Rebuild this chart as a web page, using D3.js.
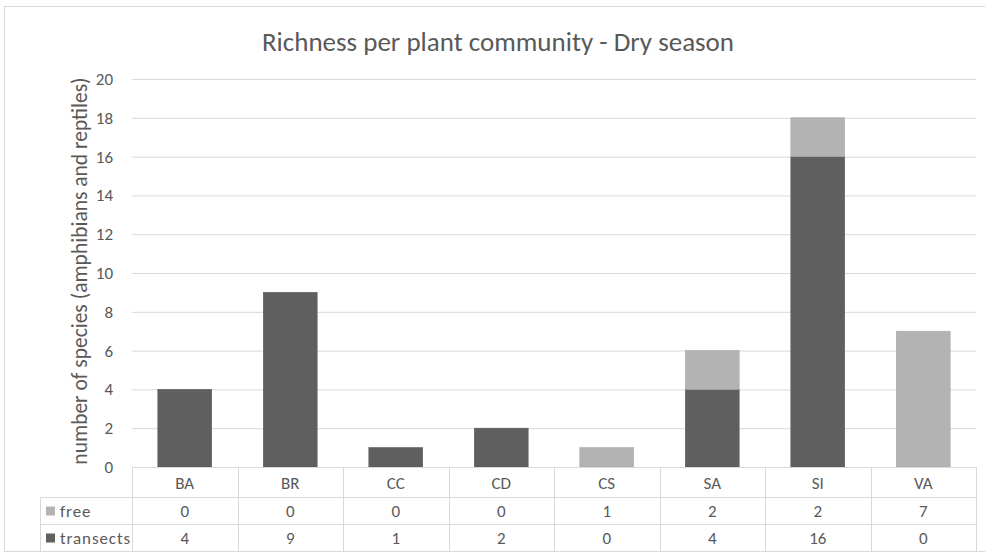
<!DOCTYPE html>
<html><head><meta charset="utf-8">
<script src="https://cdn.jsdelivr.net/npm/d3@7"></script>
<style>body{margin:0;background:#fff}svg text{font-family:Carlito,"Liberation Sans Narrow",Lato,sans-serif;fill:#595959}</style>
</head><body><svg id="c" width="985" height="559"></svg>
<script>
const categories=["BA","BR","CC","CD","CS","SA","SI","VA"];
const transects=[4,9,1,2,0,4,16,0];
const free=[0,0,0,0,1,2,2,7];
const seriesNames=["free","transects"];
const yTicks=[0,2,4,6,8,10,12,14,16,18,20];
const colors={transects:"#5f5f5f",free:"#b3b3b3"};

const svg=d3.select("#c");
svg.append("rect").attr("x",4.5).attr("y",6.5).attr("width",990).attr("height",545).attr("fill","#fff").attr("stroke","#d9d9d9");

const L=132,R=976,T=79,B=467;
const x=d3.scaleBand().domain(categories).range([L,R]).paddingInner(0.49).paddingOuter(0.245);
const xb=d3.scaleBand().domain(categories).range([L,R]);
const y=d3.scaleLinear().domain([0,20]).range([B,T]);

svg.append("text").attr("x",498).attr("y",51).attr("text-anchor","middle").attr("font-size",27).text("Richness per plant community - Dry season");

const ya=svg.append("g").attr("transform",`translate(${L},0)`).call(d3.axisLeft(y).tickValues(yTicks).tickSize(-(R-L)).tickPadding(19));
ya.select(".domain").remove();
ya.selectAll(".tick line").attr("stroke","#d9d9d9").attr("stroke-width",1);
ya.selectAll(".tick text").attr("font-size",17).attr("fill","#595959");

svg.append("text").attr("transform",`translate(87,${(T+B)/2-2}) rotate(-90)`).attr("text-anchor","middle").attr("font-size",21.5).text("number of species (amphibians and reptiles)");

const data=categories.map((c,i)=>({cat:c,transects:transects[i],free:free[i]}));
const stack=d3.stack().keys(["transects","free"])(data);
svg.append("g").selectAll("g").data(stack).join("g").attr("fill",d=>colors[d.key]).attr("stroke",d=>d3.color(colors[d.key]).darker(0.2))
 .selectAll("rect").data(d=>d.filter(s=>s[1]>s[0])).join("rect")
 .attr("x",d=>x(d.data.cat)).attr("width",x.bandwidth())
 .attr("y",d=>y(d[1])).attr("height",d=>y(d[0])-y(d[1])).attr("stroke-width",0.6);

const rows=[B,497,524,551];
const tg=svg.append("g").attr("stroke","#d9d9d9").attr("fill","none");
const tl=40;
tg.append("line").attr("x1",L).attr("x2",R).attr("y1",B+0.5).attr("y2",B+0.5);
[497,524,551].forEach(yy=>tg.append("line").attr("x1",tl).attr("x2",R).attr("y1",yy+0.5).attr("y2",yy+0.5));
tg.append("line").attr("x1",tl+0.5).attr("x2",tl+0.5).attr("y1",497).attr("y2",551);
categories.forEach(c=>tg.append("line").attr("x1",Math.round(xb(c))+0.5).attr("x2",Math.round(xb(c))+0.5).attr("y1",B).attr("y2",551));
tg.append("line").attr("x1",R+0.5).attr("x2",R+0.5).attr("y1",B).attr("y2",551);

categories.forEach(c=>svg.append("text").attr("x",xb(c)+xb.bandwidth()/2).attr("y",489).attr("text-anchor","middle").attr("font-size",17).text(c));
const rowVals={free:free,transects:transects};
seriesNames.forEach((s,ri)=>{
  const cy=(rows[ri+1]+rows[ri+2])/2;
  svg.append("rect").attr("x",46).attr("y",cy-4).attr("width",9).attr("height",9).attr("fill",colors[s]);
  svg.append("text").attr("x",60).attr("y",cy+6).attr("font-size",17).attr("letter-spacing",0.9).text(s);
  categories.forEach((c,i)=>svg.append("text").attr("x",xb(c)+xb.bandwidth()/2).attr("y",cy+6).attr("text-anchor","middle").attr("font-size",17).text(rowVals[s][i]));
});
</script></body></html>
